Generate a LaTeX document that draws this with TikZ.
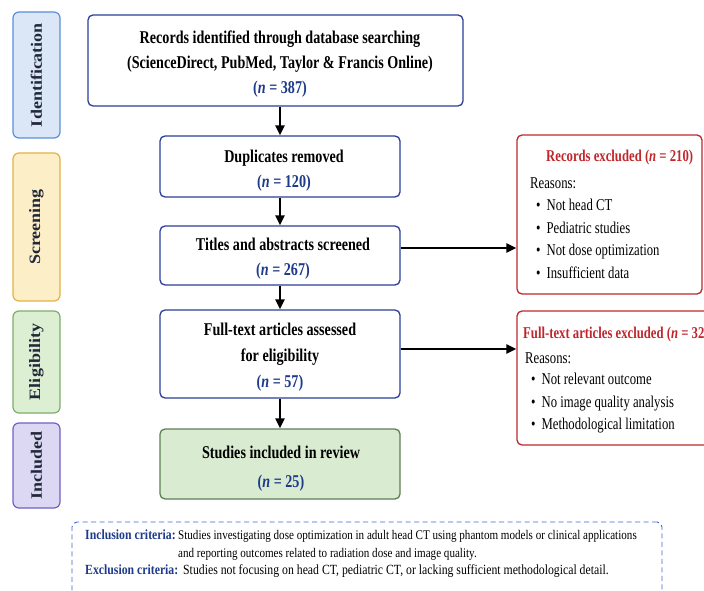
\documentclass[tikz,border=0pt]{standalone}
\usepackage{fontspec}
\setmainfont{Liberation Serif}[FakeStretch=0.785]
\newfontfamily\sidefont{Liberation Serif}[FakeStretch=0.77]
\newfontfamily\critfont{Liberation Serif}[FakeStretch=0.84]
\newfontfamily\labfont{Liberation Serif}
\usetikzlibrary{arrows.meta}
\definecolor{boxblue}{HTML}{2B3E9B}
\definecolor{nblue}{HTML}{1E3A8A}
\definecolor{exred}{HTML}{C0272D}
\definecolor{incfill}{HTML}{D9EBD0}
\definecolor{incdraw}{HTML}{5E7F56}
\definecolor{idfill}{HTML}{DBE7F7}
\definecolor{iddraw}{HTML}{5B8FD6}
\definecolor{scfill}{HTML}{FCEFC8}
\definecolor{scdraw}{HTML}{E2B343}
\definecolor{elfill}{HTML}{DDEFD3}
\definecolor{eldraw}{HTML}{7DAE6B}
\definecolor{infill}{HTML}{DCD8F4}
\definecolor{indraw}{HTML}{6C63C7}
\definecolor{critblue}{HTML}{3F6AC8}
\definecolor{labtext}{HTML}{22283A}
\newcommand{\nval}[1]{\textcolor{nblue}{(\textit{n} = #1)}}
\newcommand{\stagetext}[1]{\scalebox{1}[0.88]{#1}}
\tikzset{
  stage/.style={draw, line width=1.2pt, rounded corners=6pt, rotate=90, inner sep=0pt,
    font=\labfont\fontsize{18}{20}\selectfont\bfseries, text=labtext},
  mainbox/.style={draw=boxblue, fill=white, line width=1.3pt, rounded corners=5pt, inner sep=0pt},
  maintext/.style={align=center, inner sep=0pt, font=\fontsize{18}{25}\selectfont\bfseries},
  exbox/.style={draw=exred, fill=white, line width=1.3pt, rounded corners=5pt, inner sep=0pt},
  extitle/.style={anchor=base west, text=exred, inner sep=0pt, font=\sidefont\fontsize{16.5}{18}\selectfont\bfseries},
  extext/.style={anchor=base west, inner sep=0pt, font=\sidefont\fontsize{16.5}{18}\selectfont},
  crit/.style={anchor=base west, inner sep=0pt, font=\critfont\fontsize{14}{16}\selectfont},
  critlab/.style={crit, text=nblue, font=\critfont\fontsize{14}{16}\selectfont\bfseries},
  arr/.style={line width=2.3pt, -{Triangle[length=10pt,width=9pt]}}
}
\begin{document}
\begin{tikzpicture}[x=1pt,y=-1pt]
\useasboundingbox (0,0) rectangle (704,591);
\clip (0,0) rectangle (704,591);
\fill[white] (0,0) rectangle (704,591);

% stage labels
\node[stage, fill=idfill, draw=iddraw, minimum width=126pt, minimum height=47pt] (sid) at (36.5,75) {\stagetext{Identification}};
\node[stage, fill=scfill, draw=scdraw, minimum width=148pt, minimum height=47pt] (ssc) at (36.5,227) {\stagetext{Screening}};
\node[stage, fill=elfill, draw=eldraw, minimum width=102pt, minimum height=47pt] (sel) at (36.5,362) {\stagetext{Eligibility}};
\node[stage, fill=infill, draw=indraw, minimum width=85pt, minimum height=47pt] (sin) at (36.5,465.5) {\stagetext{Included}};

% main boxes
\node[mainbox, minimum width=375pt, minimum height=91pt] (recs) at (275.5,60.5) {};
\node[maintext] (recs-t) at (280,64.5)
  {Records identified through database searching\\(ScienceDirect, PubMed, Taylor \& Francis Online)\\\nval{387}};
\node[mainbox, minimum width=240pt, minimum height=61pt] (dup) at (280,166.5) {};
\node[maintext] (dup-t) at (284,171) {Duplicates removed\\\nval{120}};
\node[mainbox, minimum width=240pt, minimum height=59pt] (tit) at (280,255.5) {};
\node[maintext] (tit-t) at (283,259) {Titles and abstracts screened\\\nval{267}};
\node[mainbox, minimum width=240pt, minimum height=88pt] (full) at (280,354) {};
\node[maintext, font=\fontsize{18}{26}\selectfont\bfseries] (full-t) at (280,357.5)
  {Full-text articles assessed\\for eligibility\\\nval{57}};
\node[mainbox, fill=incfill, draw=incdraw, minimum width=240pt, minimum height=70pt] (stud) at (280,464) {};
\node[maintext, font=\fontsize{18}{29}\selectfont\bfseries] (stud-t) at (281,469)
  {Studies included in review\\\nval{25}};

% exclusion boxes
\node[exbox, minimum width=185pt, minimum height=159pt] (recx) at (609.5,214.5) {};
\node[extitle] (recxt) at (546,161) {Records excluded (\textit{n} = 210)};
\node[extext] (recxr) at (530,188) {Reasons:};
\node[extext] (recx1) at (536,210) {\textbullet\hspace{6pt}Not head CT};
\node[extext] (recx2) at (536,233) {\textbullet\hspace{6pt}Pediatric studies};
\node[extext] (recx3) at (536,255) {\textbullet\hspace{6pt}Not dose optimization};
\node[extext] (recx4) at (536,278) {\textbullet\hspace{6pt}Insufficient data};

\node[exbox, minimum width=223pt, minimum height=134pt] (fullx) at (628.5,378) {};
\node[extitle] (fullxt) at (523,338) {Full-text articles excluded (\textit{n} = 32)};
\node[extext] (fullxr) at (525,363) {Reasons:};
\node[extext] (fullx1) at (531,384) {\textbullet\hspace{6pt}Not relevant outcome};
\node[extext] (fullx2) at (531,407) {\textbullet\hspace{6pt}No image quality analysis};
\node[extext] (fullx3) at (531,429) {\textbullet\hspace{6pt}Methodological limitation};

% arrows
\draw[arr] (dup.north |- recs.south) -- (dup.north);
\draw[arr] (dup.south) -- (tit.north);
\draw[arr] (tit.south) -- (full.north);
\draw[arr] (full.south) -- (stud.north);
\draw[arr] ([yshift=7.5pt]tit.east) -- ([yshift=7.5pt]tit.east -| recx.west);
\draw[arr] ([yshift=5pt]full.east) -- ([yshift=5pt]full.east -| fullx.west);

% criteria box
\node[draw=critblue, dash pattern=on 5pt off 3.5pt, line width=0.9pt, rounded corners=5pt, minimum width=590pt, minimum height=83pt, inner sep=0pt] (critbox) at (367,563.5) {};
\node[critlab] (inclab) at (85,539.5) {Inclusion criteria:};
\node[crit, font=\critfont\fontsize{13.2}{16}\selectfont] (inc1) at (178,539.5) {Studies investigating dose optimization in adult head CT using phantom models or clinical applications};
\node[crit, font=\critfont\fontsize{13.2}{16}\selectfont] (inc2) at (178,557) {and reporting outcomes related to radiation dose and image quality.};
\node[critlab] (exclab) at (85,574.5) {Exclusion criteria:};
\node[crit] (exc1) at (183,574.5) {Studies not focusing on head CT, pediatric CT, or lacking sufficient methodological detail.};
\end{tikzpicture}
\end{document}
